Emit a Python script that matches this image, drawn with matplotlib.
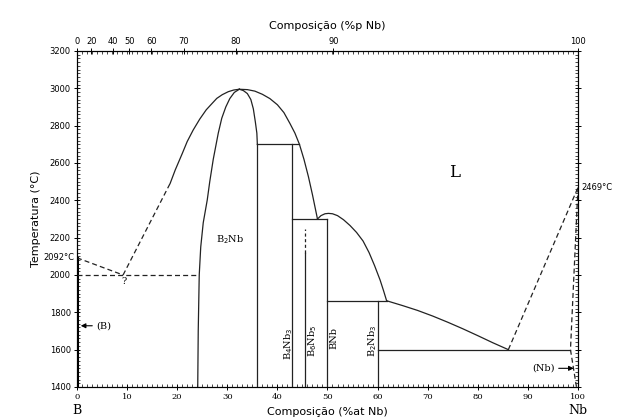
import numpy as np
import matplotlib
matplotlib.use("Agg")
import matplotlib.pyplot as plt
from matplotlib.ticker import MultipleLocator, FixedLocator

# ---- data (at% Nb, temperature °C) ----
liq_left_dash_x = [9.2, 18.6]
liq_left_dash_t = [2000, 2491]
liq_left_x = [18.6, 19.6, 21.0, 22.0, 23.2, 24.5, 25.8, 27.0, 27.9, 29.0, 30.2, 31.3, 32.4]
liq_left_t = [2491, 2562, 2650, 2715, 2777, 2835, 2885, 2920, 2946, 2966, 2982, 2991, 2995]
b2nb_left_x = [24.1, 24.2, 24.4, 24.7, 25.2, 26.0, 26.5, 27.2, 28.2, 28.9, 29.7, 30.5, 31.4, 32.4]
b2nb_left_t = [1400, 1700, 2000, 2150, 2280, 2402, 2500, 2620, 2760, 2840, 2900, 2945, 2978, 2995]
b2nb_right_x = [32.4, 33.2, 34.0, 34.7, 35.2, 35.6, 35.9, 36.0]
b2nb_right_t = [2995, 2988, 2972, 2940, 2890, 2820, 2760, 2700]
liq_mid_x = [32.4, 34.0, 35.5, 37.0, 38.5, 40.0, 41.3, 42.5, 43.5, 44.4, 45.3, 46.2, 47.0, 48.0]
liq_mid_t = [2995, 2993, 2985, 2968, 2945, 2912, 2870, 2812, 2760, 2700, 2620, 2526, 2430, 2300]
bnb_liq_x = [48.0, 48.7, 49.5, 50.2, 51.0, 52.0, 53.2, 54.5, 55.8, 57.1, 58.3, 59.4, 60.5, 61.2, 61.8]
bnb_liq_t = [2300, 2318, 2328, 2330, 2328, 2318, 2296, 2265, 2228, 2182, 2120, 2050, 1973, 1915, 1862]
liq_right_x = [61.8, 65.0, 68.0, 71.0, 74.0, 77.0, 80.0, 83.0, 86.1]
liq_right_t = [1862, 1836, 1810, 1780, 1747, 1712, 1675, 1637, 1600]
nb_liq_x = [86.1, 100.0]
nb_liq_t = [1600, 2469]
nb_sol_x = [100.0, 98.5, 99.7]
nb_sol_t = [2469, 1600, 1400]

b_melt = 2092
nb_melt = 2469
eut_b = (9.2, 2000)
b2nb_eut_x = 24.4
peri_2700 = (36.0, 44.4, 2700)
peri_2300 = (42.9, 50.0, 2300)
peri_1862 = (50.0, 61.8, 1862)
eut_1600 = (60.0, 98.5, 1600)
x_b2nb_r = 36.0
x_b4nb3 = 42.9
x_b6nb5 = 45.5
x_bnb = 50.0
x_b2nb3 = 60.0
b6nb5_solid_top = 2120
b6nb5_dash_top = 2245

top_labels = [0, 20, 40, 50, 60, 70, 80, 90, 100]

def wt_to_at(w):
    w = np.asarray(w, dtype=float)
    nb = w / 92.906
    b = (100 - w) / 10.811
    with np.errstate(invalid="ignore", divide="ignore"):
        return np.where(w >= 100, 100.0, 100 * nb / (nb + b))

fig = plt.figure(figsize=(6.29, 4.20), dpi=100)
ax = fig.add_axes([0.1224, 0.0786, 0.7965, 0.8000])
ax.set_xlim(0, 100)
ax.set_ylim(1400, 3200)

lw = 0.9
c = "#222222"
dash = (0, (4, 2.5))

def line(xs, ts, **kw):
    kw.setdefault("ls", "-")
    ax.plot(xs, ts, color=c, lw=lw, solid_joinstyle="round", **kw)

line(liq_left_dash_x, liq_left_dash_t, ls=dash)
line(liq_left_x, liq_left_t)
line(b2nb_left_x, b2nb_left_t)
line(b2nb_right_x, b2nb_right_t)
line(liq_mid_x, liq_mid_t)
line(bnb_liq_x, bnb_liq_t)
line(liq_right_x, liq_right_t)
line(nb_liq_x, nb_liq_t, ls=dash)
line(nb_sol_x, nb_sol_t, ls=dash)

# B side
ax.plot([0, 0], [1400, b_melt], color="black", lw=2.2)
line([0, eut_b[0]], [b_melt, eut_b[1]], ls=dash)
line([0, b2nb_eut_x], [2000, 2000], ls=dash)

# horizontals
for (x0, x1, t) in (peri_2700, peri_2300, peri_1862, eut_1600):
    line([x0, x1], [t, t])

# verticals
line([x_b2nb_r] * 2, [1400, 2700])
line([x_b4nb3] * 2, [1400, 2700])
line([x_b6nb5] * 2, [1400, b6nb5_solid_top])
line([x_b6nb5] * 2, [b6nb5_solid_top, b6nb5_dash_top], ls=(0, (2.5, 2)))
line([x_bnb] * 2, [1400, 2300])
line([x_b2nb3] * 2, [1400, 1862])

serif = "DejaVu Serif"
ax.text(75.4, 2550, "L", fontsize=12, family=serif, ha="center", va="center")
ax.text(30.5, 2190, r"B$_2$Nb", fontsize=7, family=serif, ha="center", va="center")
ax.text(42.2, 1630, r"B$_4$Nb$_3$", fontsize=7, family=serif, rotation=90, ha="center", va="center")
ax.text(47.0, 1650, r"B$_6$Nb$_5$", fontsize=7, family=serif, rotation=90, ha="center", va="center")
ax.text(51.2, 1665, "BNb", fontsize=7, family=serif, rotation=90, ha="center", va="center")
ax.text(59.0, 1650, r"B$_2$Nb$_3$", fontsize=7, family=serif, rotation=90, ha="center", va="center")
ax.text(9.3, 1965, "?", fontsize=7, family=serif, ha="center", va="center")

ax.annotate("", xy=(0.2, 1728), xytext=(3.6, 1728),
            arrowprops=dict(arrowstyle="-|>", color="black", lw=0.8, mutation_scale=7))
ax.text(3.8, 1728, "(B)", fontsize=7, family=serif, ha="left", va="center")
ax.annotate("", xy=(99.7, 1500), xytext=(95.6, 1500),
            arrowprops=dict(arrowstyle="-|>", color="black", lw=0.8, mutation_scale=7))
ax.text(95.4, 1500, "(Nb)", fontsize=7, family=serif, ha="right", va="center")

ax.text(-0.6, b_melt, "2092°C", fontsize=6, ha="right", va="center")
ax.text(100.6, nb_melt, "2469°C", fontsize=6, ha="left", va="center")

# axes styling
for s in ax.spines.values():
    s.set_linewidth(0.8)
ax.xaxis.set_major_locator(MultipleLocator(10))
ax.xaxis.set_minor_locator(MultipleLocator(1))
ax.yaxis.set_major_locator(MultipleLocator(200))
ax.yaxis.set_minor_locator(MultipleLocator(20))
ax.tick_params(axis="both", which="major", direction="inout", length=5, width=0.7,
               labelsize=6, pad=2, right=True)
ax.tick_params(axis="both", which="minor", direction="in", length=2.5, width=0.5, right=True)
ax.tick_params(axis="y", which="both", labelright=False)
for lab in ax.get_xticklabels():
    lab.set_family(serif)

ax.set_xlabel("Composição (%at Nb)", fontsize=8, labelpad=4)
ax.set_ylabel("Temperatura (°C)", fontsize=8, labelpad=6)
ax.text(0, -0.07, "B", transform=ax.transAxes, fontsize=9, family=serif, ha="center", va="center")
ax.text(1.0, -0.07, "Nb", transform=ax.transAxes, fontsize=9, family=serif, ha="center", va="center")

top = ax.twiny()
top.set_xlim(0, 100)
top.xaxis.set_major_locator(FixedLocator(wt_to_at(top_labels)))
top.set_xticklabels([str(v) for v in top_labels])
top.xaxis.set_minor_locator(MultipleLocator(1))
top.tick_params(axis="x", which="major", direction="inout", length=5, width=0.7, labelsize=6, pad=1)
top.tick_params(axis="x", which="minor", direction="in", length=2.5, width=0.5)
top.set_xlabel("Composição (%p Nb)", fontsize=8, labelpad=6)
for s in top.spines.values():
    s.set_linewidth(0.8)

fig.savefig("out.png", dpi=100)
